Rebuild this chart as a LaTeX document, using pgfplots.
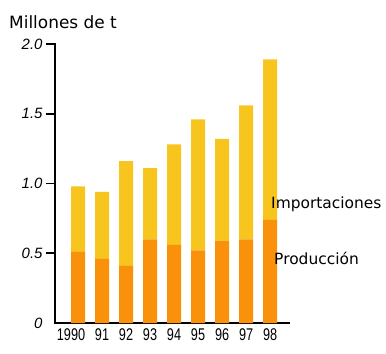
\documentclass[border=0pt]{standalone}
\usepackage{fontspec}
\setmainfont{DejaVu Sans}
\newfontfamily\lib{Liberation Sans}
\usepackage{pgfplots}
\pgfplotsset{compat=1.18}
\definecolor{prod}{RGB}{250,145,10}
\definecolor{imp}{RGB}{247,197,30}
\newcommand{\xl}[1]{\scalebox{0.75}[1]{#1}}
\begin{document}
\begin{tikzpicture}
\path[use as bounding box] (0bp,0bp) rectangle (386bp,354bp);
\begin{axis}[
  at={(55bp,31bp)}, anchor=south west,
  scale only axis, width=235bp, height=279bp,
  xmin=-0.96, xmax=8.83, ymin=0, ymax=2,
  ybar stacked, bar width=14bp,
  axis x line*=bottom, axis y line*=left,
  axis line style={-, line width=1.6pt, black},
  xtick={0,...,8}, xticklabels={\hspace{-14bp}\xl{1990},\xl{91},\xl{92},\xl{93},\xl{94},\xl{95},\xl{96},\xl{97},\xl{98}},
  xtick style={draw=none},
  xticklabel style={font=\lib\fontsize{17}{17}\selectfont, yshift=-2bp},
  ytick={0,0.5,1,1.5,2}, yticklabels={0,0.5,1.0,1.5,2.0},
  ytick style={draw=none},
  yticklabel style={font=\lib\itshape\fontsize{15}{15}\selectfont, xshift=-9bp},
  clip=false,
]
\addplot[fill=prod, draw=none] coordinates {(0,0.51) (1,0.46) (2,0.41) (3,0.60) (4,0.56) (5,0.52) (6,0.59) (7,0.60) (8,0.74)};
\addplot[fill=imp, draw=none] coordinates {(0,0.47) (1,0.48) (2,0.75) (3,0.51) (4,0.72) (5,0.94) (6,0.73) (7,0.96) (8,1.15)};
\end{axis}
\draw[line width=1.8pt, black] (55bp,30bp) -- (55bp,311bp);
\draw[line width=1.8pt, black] (46bp,100.75bp) -- (55bp,100.75bp);
\draw[line width=1.8pt, black] (46bp,170.5bp) -- (55bp,170.5bp);
\draw[line width=1.8pt, black] (46bp,240.25bp) -- (55bp,240.25bp);
\draw[line width=1.8pt, black] (46bp,310bp) -- (55bp,310bp);
\node[anchor=west, font=\fontsize{15.5}{15.5}\selectfont, inner sep=0pt] at (271bp,150bp) {Importaciones};
\node[anchor=west, font=\fontsize{15.5}{15.5}\selectfont, inner sep=0pt] at (274bp,96bp) {Producción};
\node[anchor=west, font=\fontsize{17}{17}\selectfont, inner sep=0pt] at (9bp,332bp) {Millones de t};
\end{tikzpicture}
\end{document}
